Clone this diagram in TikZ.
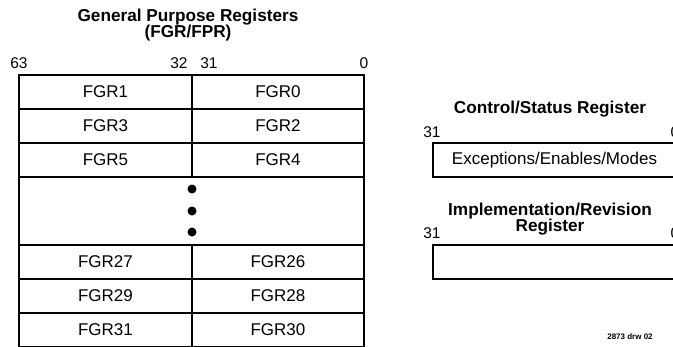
\documentclass[tikz,border=0pt]{standalone}
\usepackage{fontspec}
\setmainfont{Liberation Sans}
\begin{document}
\begin{tikzpicture}[x=1pt,y=-1pt,
  reg/.style={draw, line width=1.7pt, rectangle, inner sep=0pt, minimum height=34pt, font=\fontsize{17}{20}\selectfont},
  lcell/.style={reg, minimum width=173pt},
  rcell/.style={reg, minimum width=172pt},
  bit/.style={inner sep=0pt, font=\fontsize{15.5}{18}\selectfont},
  title/.style={inner sep=0pt, align=center, font=\fontsize{17.2}{16.5}\bfseries\selectfont},
  dotmark/.style={circle, fill=black, inner sep=0pt, minimum size=9pt}]
\clip (0,0) rectangle (673,346);
% general purpose registers
\node[title] (gtitle) at (188,25) {General Purpose Registers\\(FGR/FPR)};
\node[bit] (b63) at (19,63) {63};
\node[bit] (b32) at (179,63) {32};
\node[bit] (b31) at (209,63) {31};
\node[bit] (b0) at (364,63) {0};
\node[lcell] (f1) at (105.5,92) {FGR1};
\node[rcell] (f0) at (278,92) {FGR0};
\node[lcell] (f3) at (105.5,126) {FGR3};
\node[rcell] (f2) at (278,126) {FGR2};
\node[lcell] (f5) at (105.5,160) {FGR5};
\node[rcell] (f4) at (278,160) {FGR4};
\node[reg, minimum width=345pt, minimum height=68pt] (gap) at (191.5,211) {};
\node[dotmark] (d1) at (192,189) {};
\node[dotmark] (d2) at (192,211) {};
\node[dotmark] (d3) at (192,232) {};
\node[lcell] (f27) at (105.5,262) {FGR27};
\node[rcell] (f26) at (278,262) {FGR26};
\node[lcell] (f29) at (105.5,296) {FGR29};
\node[rcell] (f28) at (278,296) {FGR28};
\node[lcell] (f31) at (105.5,330) {FGR31};
\node[rcell] (f30) at (278,330) {FGR30};
% control/status register
\node[title] (ctitle) at (550,109) {Control/Status Register};
\node[bit] (c31) at (432,132) {31};
\node[bit] (c0) at (675,132) {0};
\node[reg, minimum width=243pt] (csr) at (554.5,160) {Exceptions/Enables/Modes};
% implementation/revision register
\node[title] (ititle) at (550,219) {Implementation/Revision\\Register};
\node[bit] (i31) at (432,233) {31};
\node[bit] (i0) at (675,233) {0};
\node[reg, minimum width=243pt] (irr) at (554.5,262) {};
\node[inner sep=0pt, font=\fontsize{8}{9}\bfseries\selectfont] (drw) at (630,337) {2873 drw 02};
\end{tikzpicture}
\end{document}
